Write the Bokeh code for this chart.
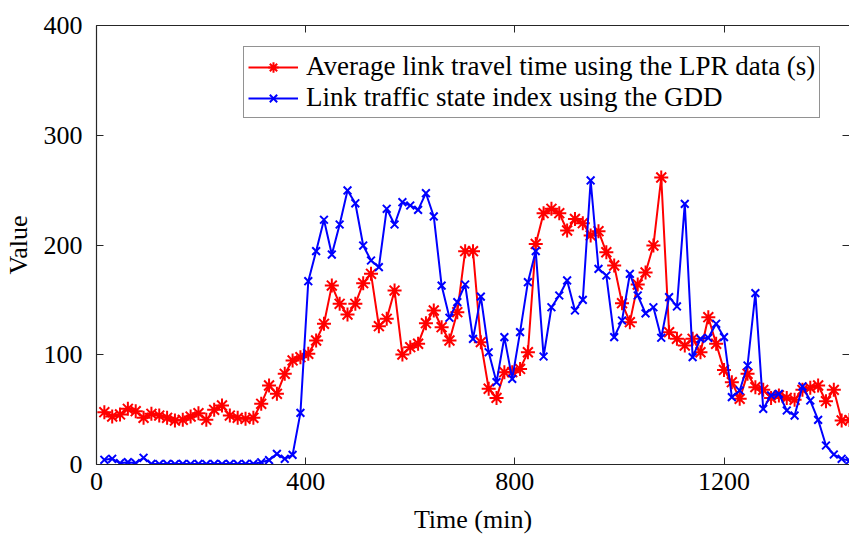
from bokeh.plotting import figure
from bokeh.models import LinearAxis, FixedTicker, Range1d
from bokeh.embed import file_html
from bokeh.resources import INLINE

# ---- data ----
time_min = list(range(15, 1441, 15))  # 15-minute intervals

lpr_travel_time = [
    47.7, 43.7, 45.6, 50.7, 48.6, 42.5, 46.2, 44.6, 42.5, 40.1,
    40.7, 43.7, 46.8, 40.7, 49.8, 53.8, 44.6, 42.5, 41.6, 42.5,
    55.3, 72.0, 64.4, 82.6, 94.8, 97.8, 100.8, 113.0, 128.2, 163.0,
    146.4, 136.7, 146.4, 165.2, 173.7, 126.0, 132.7, 158.5, 100.2, 106.9,
    110.0, 128.8, 140.3, 125.1, 113.0, 138.8, 194.4, 194.4, 111.5, 69.0,
    60.7, 84.1, 84.1, 87.1, 102.3, 201.0, 229.0, 233.0, 229.0, 213.2,
    223.8, 219.9, 208.7, 212.6, 193.4, 181.3, 147.0, 129.7, 164.0, 175.0,
    199.5, 261.5, 120.6, 114.5, 108.4, 114.5, 102.3, 134.2, 110.0, 86.2,
    75.0, 59.8, 82.6, 70.5, 68.0, 60.7, 62.9, 60.7, 58.9, 68.0,
    69.9, 72.0, 57.7, 68.0, 40.1, 40.5,
]

gdd_state_index = [
    4.3, 5.2, 1.2, 2.1, 1.2, 6.1, 0.5, 0.4, 0.5, 0.4,
    0.5, 0.4, 0.5, 0.4, 0.5, 0.4, 0.5, 0.4, 0.5, 0.6,
    2.0, 4.0, 9.7, 5.2, 8.8, 47.0, 167.0, 194.4, 223.0, 191.3,
    218.7, 249.7, 238.0, 199.5, 185.9, 179.8, 233.0, 218.7, 239.0, 236.0,
    232.0, 247.2, 226.0, 163.0, 133.7, 147.9, 164.0, 114.5, 153.0, 102.3,
    75.0, 116.0, 78.0, 120.6, 166.1, 194.4, 98.4, 143.3, 154.0, 167.7,
    140.3, 150.0, 258.8, 178.3, 172.2, 116.0, 131.2, 173.7, 154.0, 137.7,
    143.3, 115.5, 152.5, 144.0, 237.5, 97.8, 114.5, 115.4, 128.2, 116.0,
    61.4, 67.4, 90.2, 156.1, 50.7, 62.9, 64.4, 49.2, 44.6, 71.1,
    58.3, 40.7, 17.3, 9.1, 5.2, 3.6,
]

series_labels = [
    "Average link travel time using the LPR data (s)",
    "Link traffic state index using the GDD",
]
x_ticks = [0, 400, 800, 1200]
y_ticks = [0, 100, 200, 300, 400]

FONT = "Liberation Serif"
AX = "#262626"

p = figure(width=849, height=539, output_backend="svg", toolbar_location=None,
           x_range=Range1d(0, 1440), y_range=Range1d(0, 400),
           min_border_left=95, min_border_right=0, min_border_top=25,
           min_border_bottom=75, x_axis_label="Time (min)", y_axis_label="Value")
p.outline_line_color = None
p.background_fill_color = "white"
p.border_fill_color = "white"
p.xgrid.visible = False
p.ygrid.visible = False

def style_axis(ax, ticks, show_labels=True, show_line=True):
    ax.ticker = FixedTicker(ticks=ticks)
    ax.minor_tick_line_color = None
    ax.major_tick_in = 7
    ax.major_tick_out = 0
    ax.major_tick_line_color = AX
    ax.major_tick_line_width = 1
    ax.axis_line_color = AX if show_line else None
    ax.axis_line_width = 1.2
    if show_labels:
        ax.major_label_text_font = FONT
        ax.major_label_text_font_size = "26px"
        ax.major_label_text_color = "black"
        ax.axis_label_text_font = FONT
        ax.axis_label_text_font_size = "26px"
        ax.axis_label_text_font_style = "normal"
        ax.axis_label_text_color = "black"
    else:
        ax.major_label_overrides = {t: "" for t in ticks}
        ax.major_label_text_font_size = "1px"
        ax.major_label_standoff = 0

style_axis(p.xaxis[0], x_ticks)
p.xaxis[0].major_label_standoff = 8
p.xaxis[0].axis_label_standoff = 12
style_axis(p.yaxis[0], y_ticks)
p.yaxis[0].major_label_standoff = 14
p.yaxis[0].axis_label_standoff = 8

top_ax = LinearAxis()
style_axis(top_ax, x_ticks, show_labels=False)
p.add_layout(top_ax, "above")
right_ax = LinearAxis()
style_axis(right_ax, y_ticks, show_labels=False, show_line=False)
p.add_layout(right_ax, "right")

p.line(time_min, lpr_travel_time, line_color="#FF0000", line_width=2,
       legend_label=series_labels[0])
p.scatter(time_min, lpr_travel_time, marker="asterisk", size=14,
          line_color="#FF0000", line_width=2, legend_label=series_labels[0])
p.line(time_min, gdd_state_index, line_color="#0000FF", line_width=2,
       legend_label=series_labels[1])
p.scatter(time_min, gdd_state_index, marker="x", size=11,
          line_color="#0000FF", line_width=2, legend_label=series_labels[1])

lg = p.legend[0]
lg.location = (147, 346)
lg.label_text_font = FONT
lg.label_text_font_size = "27px"
lg.label_text_color = "black"
lg.glyph_width = 50
lg.glyph_height = 26
lg.label_standoff = 8
lg.padding = 4
lg.spacing = 0
lg.margin = 0
lg.border_line_color = AX
lg.border_line_width = 1
lg.background_fill_color = "white"
lg.background_fill_alpha = 1.0

open("out.html", "w").write(file_html(p, INLINE))
